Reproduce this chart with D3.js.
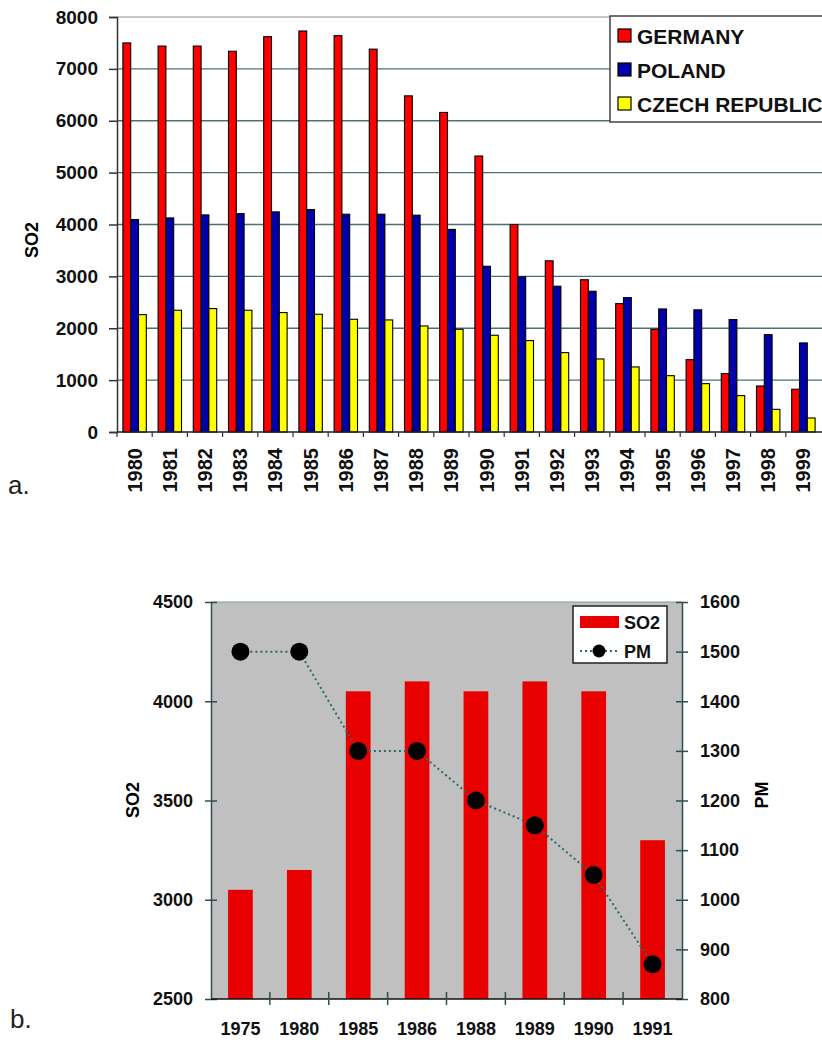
<!DOCTYPE html>
<html>
<head>
<meta charset="utf-8">
<script src="https://cdn.jsdelivr.net/npm/d3@7.9.0/dist/d3.min.js"></script>
<style>
  body { margin: 0; background: #fff; }
  svg { display: block; font-family: "Liberation Sans", Arial, sans-serif; }
  .bold { font-weight: bold; }
</style>
</head>
<body>
<svg id="chart" width="822" height="1040"></svg>
<script>
// ---- panel a data ----
const yearsA = ['1980','1981','1982','1983','1984','1985','1986','1987','1988','1989',
                '1990','1991','1992','1993','1994','1995','1996','1997','1998','1999'];
const countries = ['GERMANY', 'POLAND', 'CZECH REPUBLIC'];
const germany = [7500, 7440, 7440, 7340, 7620, 7730, 7640, 7380, 6480, 6160,
                 5320, 4000, 3300, 2935, 2475, 1980, 1395, 1125, 887, 825];
const poland  = [4095, 4127, 4185, 4210, 4243, 4288, 4198, 4198, 4180, 3905,
                 3195, 2990, 2810, 2713, 2590, 2372, 2355, 2167, 1877, 1717];
const czech   = [2263, 2347, 2379, 2347, 2302, 2270, 2173, 2160, 2044, 1980,
                 1865, 1762, 1530, 1408, 1254, 1086, 932, 701, 437, 270];
const ticksA = [0, 1000, 2000, 3000, 4000, 5000, 6000, 7000, 8000];

// ---- panel b data ----
const yearsB = ['1975','1980','1985','1986','1988','1989','1990','1991'];
const so2B = [3050, 3150, 4050, 4100, 4050, 4100, 4050, 3300];
const pmB  = [1500, 1500, 1300, 1300, 1200, 1150, 1050, 870];
const ticksSO2 = [2500, 3000, 3500, 4000, 4500];
const ticksPM = [800, 900, 1000, 1100, 1200, 1300, 1400, 1500, 1600];

const svg = d3.select('#chart');
const grid = '#4d7070';

// ================= panel a =================
const a = { left: 117, right: 821, top: 17, bottom: 432 };
const xA = d3.scaleBand().domain(yearsA).range([a.left, a.right])
  .paddingInner(0.335).paddingOuter(0.1675);
const sub = d3.scaleBand().domain(countries).range([0, xA.bandwidth()]);
const yA = d3.scaleLinear().domain([0, 8000]).range([a.bottom, a.top]);
const colorsA = { 'GERMANY': '#ff0000', 'POLAND': '#0000a8', 'CZECH REPUBLIC': '#ffff00' };
const series = { 'GERMANY': germany, 'POLAND': poland, 'CZECH REPUBLIC': czech };

const gA = svg.append('g');

// gridlines
gA.selectAll('line.grid').data(ticksA.filter(t => t > 0)).join('line')
  .attr('x1', a.left).attr('x2', 822)
  .attr('y1', d => yA(d)).attr('y2', d => yA(d))
  .attr('stroke', d => d === 8000 ? '#b4b4b4' : grid).attr('stroke-width', 1.3);

// bars
countries.forEach(c => {
  gA.selectAll(null).data(series[c]).join('rect')
    .attr('x', (d, i) => xA(yearsA[i]) + sub(c))
    .attr('y', d => yA(d))
    .attr('width', sub.bandwidth())
    .attr('height', d => yA(0) - yA(d))
    .attr('fill', colorsA[c])
    .attr('stroke', '#000').attr('stroke-width', 1.1);
});

// y axis
const axA = gA.append('g').attr('transform', `translate(${a.left},0)`)
  .call(d3.axisLeft(yA).tickValues(ticksA).tickSize(8).tickPadding(11).tickFormat(d3.format('d')))
  .attr('font-family', null).attr('font-size', null);
axA.select('.domain').attr('stroke', '#333').attr('stroke-width', 1.5);
axA.selectAll('.tick line').attr('stroke', '#333').attr('stroke-width', 1.5);
axA.selectAll('text').attr('font-weight', 'bold').attr('font-size', 19)
  .attr('fill', '#111');

// x axis
gA.append('line').attr('x1', a.left).attr('x2', 822)
  .attr('y1', a.bottom).attr('y2', a.bottom).attr('stroke', '#222').attr('stroke-width', 1.5);
gA.selectAll('line.xt').data(yearsA).join('line')
  .attr('x1', d => xA(d) - xA.step() * 0.1675)
  .attr('x2', d => xA(d) - xA.step() * 0.1675)
  .attr('y1', a.bottom).attr('y2', a.bottom + 5)
  .attr('stroke', '#333').attr('stroke-width', 1.2);
gA.selectAll('text.xl').data(yearsA).join('text')
  .attr('class', 'bold')
  .attr('transform', d => `translate(${xA(d) + xA.bandwidth() / 2 + 7},${a.bottom + 16}) rotate(-90)`)
  .attr('text-anchor', 'end').attr('font-size', 20).attr('fill', '#111')
  .text(d => d);

// y title
svg.append('text').attr('class', 'bold')
  .attr('transform', 'translate(38,240) rotate(-90)')
  .attr('text-anchor', 'middle').attr('font-size', 18).text('SO2');

// legend a
const legA = svg.append('g');
legA.append('rect').attr('x', 610).attr('y', 16).attr('width', 230).attr('height', 106)
  .attr('fill', '#fff').attr('stroke', '#444').attr('stroke-width', 1.5);
countries.forEach((c, i) => {
  const cy = 36 + i * 34;
  legA.append('rect').attr('x', 618).attr('y', cy - 7).attr('width', 13).attr('height', 13)
    .attr('fill', colorsA[c]).attr('stroke', '#000').attr('stroke-width', 1.2);
  legA.append('text').attr('class', 'bold').attr('x', 637).attr('y', cy + 7.5)
    .attr('font-size', 21).attr('fill', '#111').text(c);
});

svg.append('text').attr('x', 8).attr('y', 494).attr('font-size', 26).attr('fill', '#222').text('a.');

// ================= panel b =================
const b = { left: 211, right: 682, top: 602, bottom: 999 };
const xB = d3.scaleBand().domain(yearsB).range([b.left, b.right]).paddingInner(0.58).paddingOuter(0.29);
const ySO2 = d3.scaleLinear().domain([2500, 4500]).range([b.bottom, b.top]);
const yPM = d3.scaleLinear().domain([800, 1600]).range([b.bottom, b.top]);

const gB = svg.append('g');
gB.append('rect').attr('x', b.left).attr('y', b.top)
  .attr('width', b.right - b.left).attr('height', b.bottom - b.top).attr('fill', '#c0c0c0');
gB.append('line').attr('x1', b.left).attr('x2', b.right).attr('y1', b.top).attr('y2', b.top)
  .attr('stroke', '#7aa0a0').attr('stroke-width', 1);

gB.selectAll('rect.bar').data(so2B).join('rect')
  .attr('x', (d, i) => xB(yearsB[i]))
  .attr('y', d => ySO2(d))
  .attr('width', xB.bandwidth())
  .attr('height', d => ySO2(2500) - ySO2(d))
  .attr('fill', '#e80000');

const line = d3.line()
  .x((d, i) => xB(yearsB[i]) + xB.bandwidth() / 2)
  .y(d => yPM(d));
gB.append('path').datum(pmB).attr('d', line)
  .attr('fill', 'none').attr('stroke', '#2a6a6a').attr('stroke-width', 2)
  .attr('stroke-dasharray', '2,3');
gB.selectAll('circle.pt').data(pmB).join('circle')
  .attr('cx', (d, i) => xB(yearsB[i]) + xB.bandwidth() / 2)
  .attr('cy', d => yPM(d)).attr('r', 9).attr('fill', '#000');

// axes
const axL = gB.append('g').attr('transform', `translate(${b.left},0)`)
  .call(d3.axisLeft(ySO2).tickValues(ticksSO2).tickSizeInner(6).tickSizeOuter(0).tickPadding(12).tickFormat(d3.format('d')));
axL.selectAll('.tick line').attr('x2', 6).attr('x1', -6);
const axR = gB.append('g').attr('transform', `translate(${b.right},0)`)
  .call(d3.axisRight(yPM).tickValues(ticksPM).tickSizeInner(6).tickSizeOuter(0).tickPadding(12).tickFormat(d3.format('d')));
axR.selectAll('.tick line').attr('x1', -6).attr('x2', 6);
[axL, axR].forEach(ax => {
  ax.attr('font-family', null).attr('font-size', null);
  ax.select('.domain').attr('stroke', '#2f4f4f').attr('stroke-width', 1.5);
  ax.selectAll('.tick line').attr('stroke', '#2f4f4f').attr('stroke-width', 1.5);
  ax.selectAll('text').attr('font-weight', 'bold').attr('font-size', 18).attr('fill', '#111');
});

gB.append('line').attr('x1', b.left).attr('x2', b.right).attr('y1', b.bottom).attr('y2', b.bottom)
  .attr('stroke', '#111').attr('stroke-width', 1.5);
gB.selectAll('line.bt').data(yearsB.slice(1)).join('line')
  .attr('x1', d => xB(d) - xB.step() * 0.29).attr('x2', d => xB(d) - xB.step() * 0.29)
  .attr('y1', b.bottom - 7).attr('y2', b.bottom + 6)
  .attr('stroke', '#2f4f4f').attr('stroke-width', 1.5);
gB.selectAll('text.bl').data(yearsB).join('text')
  .attr('class', 'bold')
  .attr('x', d => xB(d) + xB.bandwidth() / 2).attr('y', 1035)
  .attr('text-anchor', 'middle').attr('font-size', 18).attr('fill', '#111').text(d => d);

svg.append('text').attr('class', 'bold')
  .attr('transform', 'translate(139,800) rotate(-90)')
  .attr('text-anchor', 'middle').attr('font-size', 18).text('SO2');
svg.append('text').attr('class', 'bold')
  .attr('transform', 'translate(768,795) rotate(-90)')
  .attr('text-anchor', 'middle').attr('font-size', 18).text('PM');

// legend b
const legB = svg.append('g');
legB.append('rect').attr('x', 573).attr('y', 606).attr('width', 94).attr('height', 57)
  .attr('fill', '#fff').attr('stroke', '#222').attr('stroke-width', 1.5);
legB.append('rect').attr('x', 580).attr('y', 616).attr('width', 39).attr('height', 12).attr('fill', '#e80000');
legB.append('text').attr('class', 'bold').attr('x', 624).attr('y', 629)
  .attr('font-size', 18).attr('fill', '#111').text('SO2');
legB.append('line').attr('x1', 580).attr('x2', 619).attr('y1', 651).attr('y2', 651)
  .attr('stroke', '#2a6a6a').attr('stroke-width', 2).attr('stroke-dasharray', '2,3');
legB.append('circle').attr('cx', 599).attr('cy', 651).attr('r', 6.5).attr('fill', '#000');
legB.append('text').attr('class', 'bold').attr('x', 624).attr('y', 658)
  .attr('font-size', 18).attr('fill', '#111').text('PM');

svg.append('text').attr('x', 10).attr('y', 1028).attr('font-size', 26).attr('fill', '#222').text('b.');
</script>
</body>
</html>
